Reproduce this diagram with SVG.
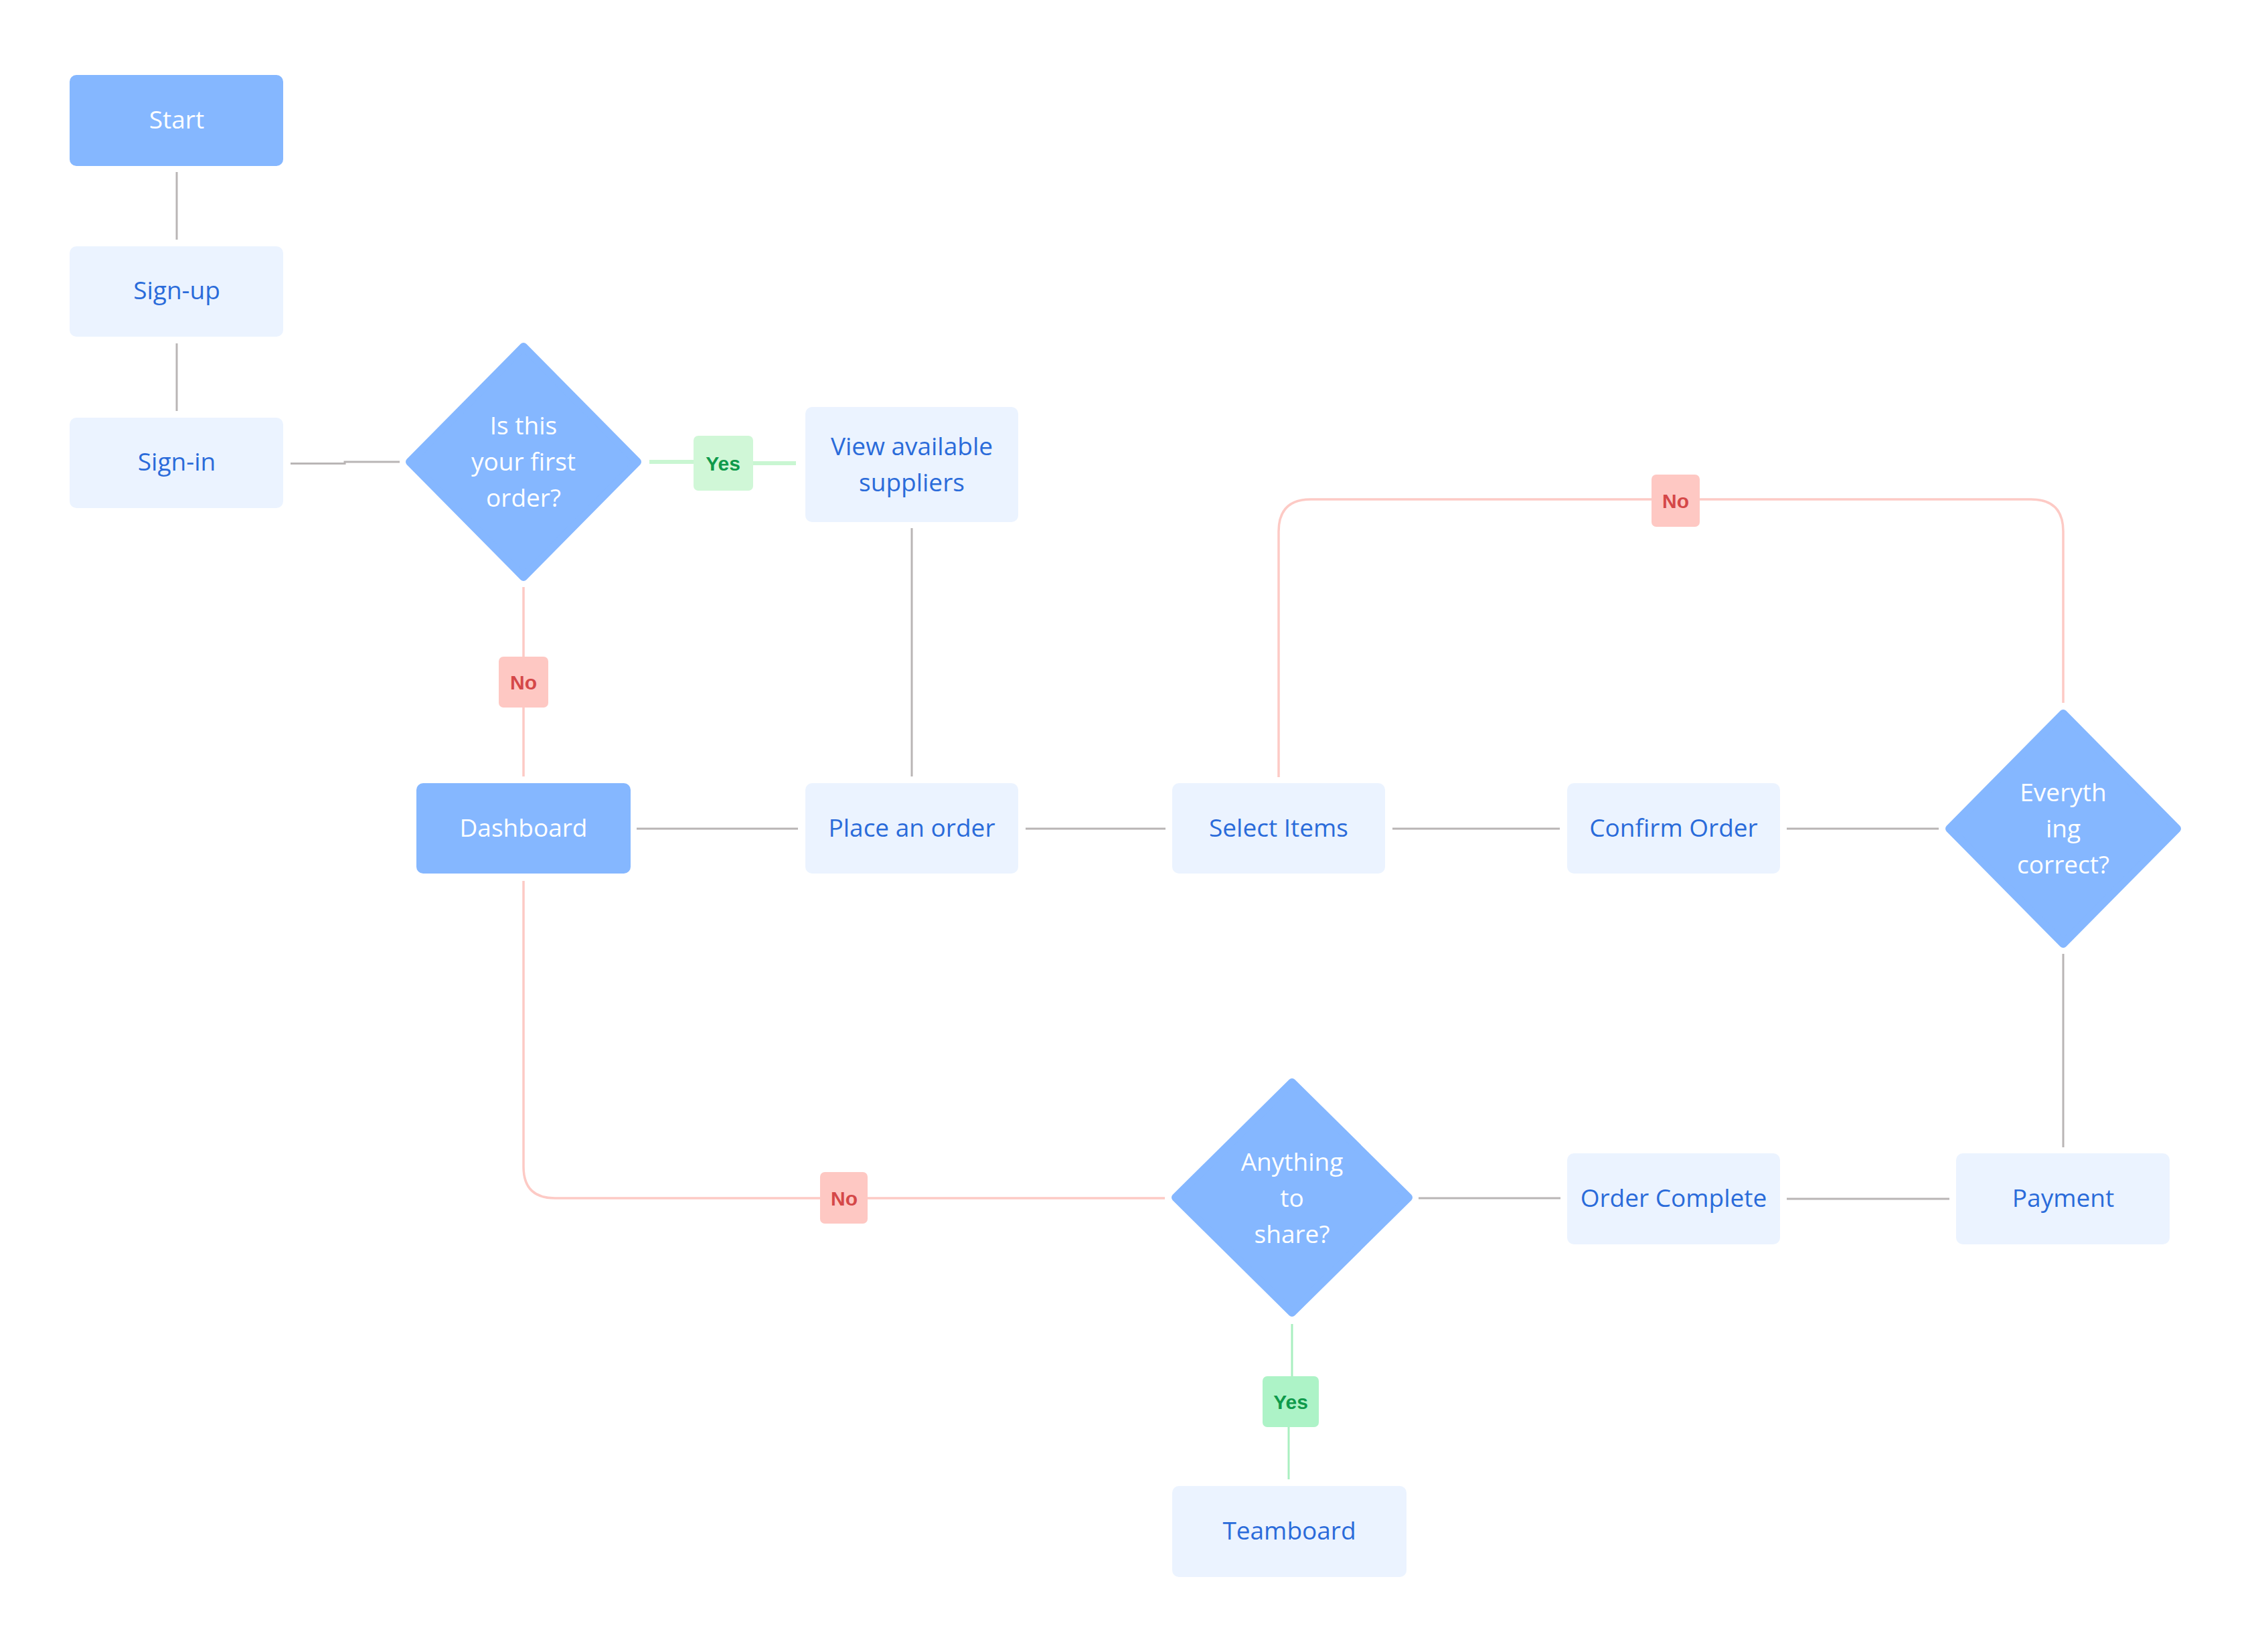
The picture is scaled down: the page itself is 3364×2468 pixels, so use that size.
<svg xmlns="http://www.w3.org/2000/svg" width="3364" height="2468" viewBox="0 0 3364 2468">
<style>
.dark{fill:#85B7FF}
.light{fill:#EBF3FF}
.dia{fill:#85B7FF;stroke:#85B7FF;stroke-width:12;stroke-linejoin:round}
.t{font-family:"Open Sans","Liberation Sans",sans-serif;font-size:37px;font-weight:500;text-anchor:middle;dominant-baseline:central}
.tw{fill:#FFFFFF}
.tb{fill:#2A6BDA}
.grey{fill:none;stroke:#B9B5B5;stroke-width:3}
.pink{fill:none;stroke:#FDCAC5;stroke-width:3.5}
.green1{fill:none;stroke:#C9F6D2;stroke-width:6}
.green2{fill:none;stroke:#A9EFC0;stroke-width:3}
.lbl{font-family:"Liberation Sans",Arial,sans-serif;font-size:30px;font-weight:bold;text-anchor:middle;dominant-baseline:central}
.noR{fill:#FEC8C3}
.noT{fill:#D54848}
.yes1R{fill:#D0F7D7}
.yes2R{fill:#ADF3C7}
.yesT{fill:#0F9A4B}
</style>
<rect width="3364" height="2468" fill="#FFFFFF"/>
<g id="connectors">
<path class="grey" d="M264 257 V358"/>
<path class="grey" d="M264 513 V614"/>
<path class="grey" d="M434 692.5 H515 V690 H597"/>
<path class="grey" d="M1362 789 V1160"/>
<path class="grey" d="M951 1238 H1192"/>
<path class="grey" d="M1532 1238 H1741"/>
<path class="grey" d="M2080 1238 H2330"/>
<path class="grey" d="M2669 1238 H2896"/>
<path class="grey" d="M3082 1425 V1714"/>
<path class="grey" d="M2669 1791 H2912"/>
<path class="grey" d="M2119 1790 H2331"/>
<path class="pink" d="M782 877 V1160"/>
<path class="pink" d="M3082 1050 V794 Q3082 746 3034 746 H1958 Q1910 746 1910 794 V1161"/>
<path class="pink" d="M782 1316 V1743 Q782 1790 829 1790 H1740"/>
<path class="green1" d="M970 690 H1080 V692 H1189"/>
<path class="green2" d="M1930 1978 V2094 H1925 V2210"/>
</g>
<g id="label-yes-1"><rect class="yes1R" x="1036" y="651" width="89" height="82" rx="7"/><text class="lbl yesT" x="1080" y="692">Yes</text></g>
<g id="label-no-1"><rect class="noR" x="745" y="981" width="74" height="76" rx="7"/><text class="lbl noT" x="782" y="1019">No</text></g>
<g id="label-no-2"><rect class="noR" x="2467" y="709" width="72" height="78" rx="7"/><text class="lbl noT" x="2503" y="748">No</text></g>
<g id="label-no-3"><rect class="noR" x="1225" y="1751" width="71" height="77" rx="7"/><text class="lbl noT" x="1261" y="1790">No</text></g>
<g id="label-yes-2"><rect class="yes2R" x="1886" y="2056" width="84" height="76" rx="7"/><text class="lbl yesT" x="1928" y="2094">Yes</text></g>
<g id="start"><rect class="dark" x="104" y="112" width="319" height="136" rx="10"/><text class="t tw" x="264" y="177">Start</text></g>
<g id="sign-up"><rect class="light" x="104" y="368" width="319" height="135" rx="10"/><text class="t tb" x="264" y="432">Sign-up</text></g>
<g id="sign-in"><rect class="light" x="104" y="624" width="319" height="135" rx="10"/><text class="t tb" x="264" y="688">Sign-in</text></g>
<g id="first-order"><polygon class="dia" points="782,518 952,690 782,862 612,690"/><text class="t tw" x="782" y="634">Is this</text><text class="t tw" x="782" y="688">your first</text><text class="t tw" x="782" y="742">order?</text></g>
<g id="view-suppliers"><rect class="light" x="1203" y="608" width="318" height="172" rx="10"/><text class="t tb" x="1362" y="665">View available</text><text class="t tb" x="1362" y="719">suppliers</text></g>
<g id="dashboard"><rect class="dark" x="622" y="1170" width="320" height="135" rx="10"/><text class="t tw" x="782" y="1235">Dashboard</text></g>
<g id="place-order"><rect class="light" x="1203" y="1170" width="318" height="135" rx="10"/><text class="t tb" x="1362" y="1235">Place an order</text></g>
<g id="select-items"><rect class="light" x="1751" y="1170" width="318" height="135" rx="10"/><text class="t tb" x="1910" y="1235">Select Items</text></g>
<g id="confirm-order"><rect class="light" x="2341" y="1170" width="318" height="135" rx="10"/><text class="t tb" x="2500" y="1235">Confirm Order</text></g>
<g id="everything-correct"><polygon class="dia" points="3082,1066 3252,1238 3082,1410 2912,1238"/><text class="t tw" x="3082" y="1182">Everyth</text><text class="t tw" x="3082" y="1236">ing</text><text class="t tw" x="3082" y="1290">correct?</text></g>
<g id="payment"><rect class="light" x="2922" y="1723" width="319" height="136" rx="10"/><text class="t tb" x="3082" y="1788">Payment</text></g>
<g id="order-complete"><rect class="light" x="2341" y="1723" width="318" height="136" rx="10"/><text class="t tb" x="2500" y="1788">Order Complete</text></g>
<g id="anything-to-share"><polygon class="dia" points="1930,1617 2104,1789 1930,1961 1756,1789"/><text class="t tw" x="1930" y="1734">Anything</text><text class="t tw" x="1930" y="1788">to</text><text class="t tw" x="1930" y="1842">share?</text></g>
<g id="teamboard"><rect class="light" x="1751" y="2220" width="350" height="136" rx="10"/><text class="t tb" x="1926" y="2285">Teamboard</text></g>
</svg>
